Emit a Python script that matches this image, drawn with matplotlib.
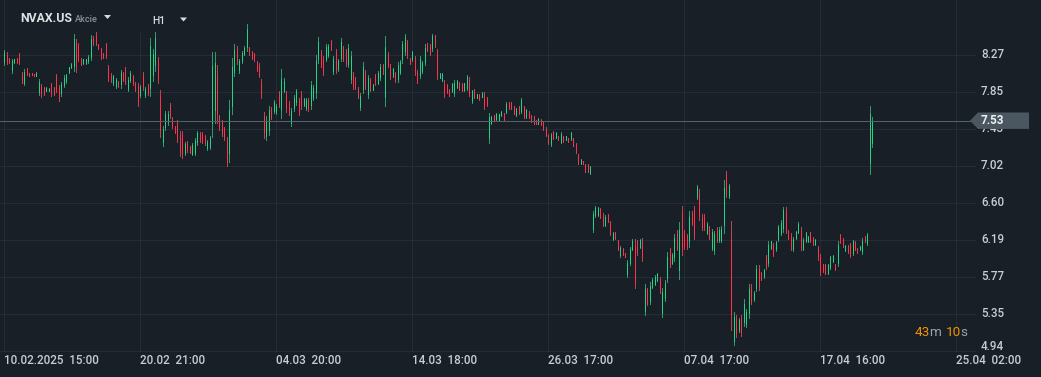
import numpy as np
import matplotlib
matplotlib.use("Agg")
import matplotlib.pyplot as plt
from matplotlib.collections import LineCollection
from matplotlib.patches import Polygon, Rectangle
from matplotlib.transforms import blended_transform_factory

# ---------------- data (H1 candles, NVAX.US) ----------------
opens = [
    8.19, 8.27, 8.23, 8.10, 8.19, 8.23, 8.27, 8.06, 7.96, 8.11,
    8.07, 8.07, 8.06, 8.03, 7.85, 7.92, 7.90, 7.86, 7.86, 7.93,
    7.90, 8.02, 7.90, 7.84, 7.93, 7.98, 8.08, 8.13, 8.15, 8.40,
    8.38, 8.23, 8.18, 8.18, 8.20, 8.25, 8.46, 8.50, 8.39, 8.33,
    8.28, 8.38, 8.13, 8.05, 7.95, 7.92, 7.97, 7.94, 8.06, 8.10,
    7.89, 7.99, 8.03, 7.95, 7.92, 7.82, 8.05, 7.82, 7.92, 7.90,
    8.04, 8.16, 8.20, 7.80, 7.29, 7.46, 7.51, 7.70, 7.55, 7.46,
    7.50, 7.37, 7.37, 7.17, 7.28, 7.23, 7.16, 7.17, 7.29, 7.38,
    7.38, 7.35, 7.22, 7.23, 7.50, 7.65, 8.05, 7.57, 7.51, 7.44,
    7.30, 7.17, 7.70, 8.08, 8.34, 8.10, 8.20, 8.28, 8.36, 8.35,
    8.30, 8.28, 8.18, 8.15, 7.96, 7.58, 7.36, 7.42, 7.66, 7.64,
    7.63, 7.84, 7.66, 7.87, 7.83, 7.72, 7.50, 7.67, 7.74, 7.75,
    7.83, 7.71, 7.67, 7.76, 7.71, 7.79, 7.85, 8.22, 8.30, 8.23,
    8.23, 8.27, 8.42, 8.09, 8.30, 8.11, 8.24, 8.34, 8.31, 8.17,
    8.00, 8.05, 8.00, 7.89, 7.68, 7.89, 8.07, 7.83, 7.99, 7.88,
    8.04, 7.96, 8.02, 8.15, 7.80, 8.27, 8.14, 8.03, 8.06, 8.00,
    8.08, 8.22, 8.31, 8.41, 8.23, 8.22, 8.23, 8.08, 8.05, 8.09,
    8.19, 8.40, 8.37, 8.35, 8.48, 8.29, 8.01, 7.99, 7.96, 7.93,
    7.88, 7.86, 7.84, 7.91, 7.96, 7.94, 7.88, 7.90, 7.99, 7.75,
    7.88, 7.79, 7.82, 7.80, 7.82, 7.79, 7.33, 7.50, 7.59, 7.55,
    7.54, 7.59, 7.61, 7.63, 7.73, 7.73, 7.68, 7.59, 7.68, 7.64,
    7.68, 7.57, 7.63, 7.58, 7.57, 7.53, 7.49, 7.54, 7.51, 7.44,
    7.36, 7.27, 7.40, 7.34, 7.36, 7.29, 7.35, 7.31, 7.34, 7.32,
    7.33, 7.26, 7.14, 7.05, 7.08, 7.03, 7.03, 6.94, 6.31, 6.47,
    6.47, 6.54, 6.47, 6.36, 6.47, 6.38, 6.20, 6.27, 6.18, 6.02,
    6.09, 6.04, 5.80, 5.93, 6.09, 6.12, 6.16, 6.11, 6.17, 5.39,
    5.62, 5.50, 5.66, 5.69, 5.74, 5.74, 5.37, 5.53, 5.76, 6.07,
    5.93, 5.99, 6.26, 5.85, 6.49, 6.27, 6.23, 6.17, 6.49, 6.52,
    6.67, 6.71, 6.45, 6.45, 6.27, 6.33, 6.10, 6.07, 6.30, 6.19,
    6.19, 6.36, 6.92, 6.68, 6.20, 5.05, 5.30, 5.17, 5.30, 5.26,
    5.24, 5.37, 5.66, 5.52, 5.65, 5.86, 5.82, 5.78, 5.99, 5.93,
    6.10, 6.13, 6.08, 6.20, 6.27, 6.32, 6.51, 6.29, 6.23, 6.08,
    6.21, 6.28, 6.29, 6.09, 6.18, 6.17, 6.26, 6.21, 6.14, 6.10,
    5.99, 5.91, 5.90, 5.82, 5.88, 5.95, 5.91, 5.93, 6.24, 6.19,
    6.07, 6.12, 6.13, 6.04, 6.15, 6.09, 6.08, 6.06, 6.22, 6.15, 7.05, 7.28,
]
highs = [
    8.33, 8.30, 8.24, 8.23, 8.23, 8.24, 8.29, 8.08, 8.11, 8.12,
    8.07, 8.07, 8.06, 8.08, 8.00, 7.94, 7.91, 7.91, 7.90, 7.96,
    7.91, 8.06, 7.93, 7.97, 8.04, 8.06, 8.14, 8.18, 8.51, 8.45,
    8.41, 8.24, 8.23, 8.23, 8.27, 8.49, 8.48, 8.53, 8.39, 8.35,
    8.29, 8.41, 8.16, 8.07, 8.05, 8.01, 7.98, 8.10, 8.08, 8.13,
    8.02, 8.09, 8.05, 7.97, 7.96, 7.93, 8.08, 7.91, 7.94, 8.46,
    8.34, 8.53, 8.25, 7.88, 7.47, 7.64, 7.64, 7.73, 7.57, 7.47,
    7.54, 7.41, 7.41, 7.29, 7.30, 7.24, 7.28, 7.33, 7.41, 7.40,
    7.40, 7.37, 7.31, 7.36, 8.30, 8.30, 8.16, 7.59, 7.54, 7.46,
    7.35, 7.76, 8.24, 8.39, 8.37, 8.23, 8.31, 8.37, 8.62, 8.36,
    8.32, 8.29, 8.20, 8.18, 8.00, 7.63, 7.58, 7.70, 7.68, 7.76,
    7.72, 7.87, 8.11, 8.01, 7.87, 7.75, 7.67, 7.82, 7.89, 7.78,
    7.87, 7.78, 7.78, 7.78, 7.98, 7.93, 8.27, 8.47, 8.33, 8.26,
    8.39, 8.39, 8.44, 8.26, 8.34, 8.22, 8.46, 8.37, 8.34, 8.39,
    8.32, 8.08, 8.02, 7.91, 7.84, 8.19, 8.10, 8.05, 8.01, 7.94,
    8.06, 8.09, 8.17, 8.17, 8.48, 8.30, 8.17, 8.12, 8.08, 8.19,
    8.21, 8.43, 8.51, 8.44, 8.24, 8.32, 8.26, 8.10, 8.26, 8.20,
    8.39, 8.41, 8.39, 8.51, 8.50, 8.34, 8.07, 8.07, 7.99, 7.94,
    7.89, 7.95, 7.99, 7.99, 7.97, 7.95, 7.96, 8.05, 8.02, 7.88,
    7.89, 7.83, 7.83, 7.85, 7.85, 7.80, 7.62, 7.58, 7.59, 7.62,
    7.61, 7.64, 7.62, 7.74, 7.74, 7.74, 7.70, 7.67, 7.70, 7.79,
    7.70, 7.66, 7.64, 7.59, 7.58, 7.54, 7.56, 7.55, 7.52, 7.46,
    7.38, 7.39, 7.41, 7.40, 7.36, 7.40, 7.36, 7.36, 7.34, 7.40,
    7.34, 7.28, 7.16, 7.10, 7.08, 7.04, 7.04, 7.02, 6.51, 6.57,
    6.56, 6.55, 6.49, 6.47, 6.48, 6.40, 6.28, 6.28, 6.19, 6.12,
    6.10, 6.04, 5.96, 6.11, 6.20, 6.20, 6.19, 6.20, 6.21, 5.69,
    5.65, 5.71, 5.76, 5.79, 5.81, 5.77, 5.65, 5.74, 6.05, 6.10,
    6.04, 6.25, 6.30, 6.39, 6.57, 6.30, 6.25, 6.51, 6.51, 6.57,
    6.81, 6.76, 6.48, 6.48, 6.39, 6.35, 6.31, 6.29, 6.33, 6.33,
    6.34, 6.86, 6.96, 6.82, 6.40, 5.38, 5.34, 5.31, 5.34, 5.52,
    5.41, 5.69, 5.69, 5.61, 5.91, 5.91, 5.83, 5.86, 6.02, 6.17,
    6.18, 6.15, 6.18, 6.36, 6.41, 6.56, 6.56, 6.30, 6.26, 6.22,
    6.29, 6.39, 6.33, 6.21, 6.28, 6.23, 6.28, 6.22, 6.20, 6.12,
    6.03, 5.92, 5.92, 5.92, 6.01, 6.02, 5.92, 6.18, 6.25, 6.21,
    6.13, 6.13, 6.15, 6.19, 6.17, 6.10, 6.12, 6.21, 6.23, 6.26, 7.70, 7.57,
]
lows = [
    8.16, 8.17, 8.18, 8.07, 8.18, 8.18, 8.17, 7.95, 7.93, 8.05,
    8.03, 8.04, 8.03, 8.03, 7.82, 7.80, 7.82, 7.86, 7.86, 7.81,
    7.82, 7.85, 7.75, 7.81, 7.91, 7.96, 8.07, 8.12, 8.09, 8.08,
    8.20, 8.16, 8.17, 8.17, 8.18, 8.21, 8.38, 8.38, 8.34, 8.23,
    8.24, 8.24, 7.98, 7.97, 7.93, 7.90, 7.91, 7.90, 7.98, 7.94,
    7.86, 7.97, 7.93, 7.86, 7.70, 7.80, 7.88, 7.80, 7.82, 7.81,
    7.98, 8.09, 7.96, 7.35, 7.25, 7.42, 7.48, 7.56, 7.45, 7.39,
    7.29, 7.13, 7.11, 7.14, 7.18, 7.17, 7.14, 7.14, 7.26, 7.29,
    7.28, 7.26, 7.20, 7.21, 7.35, 7.50, 7.50, 7.43, 7.36, 7.31,
    7.02, 7.06, 7.60, 8.03, 8.17, 8.07, 8.18, 8.27, 8.32, 8.27,
    8.22, 8.20, 8.09, 8.02, 7.79, 7.34, 7.31, 7.37, 7.55, 7.62,
    7.61, 7.68, 7.56, 7.85, 7.63, 7.59, 7.47, 7.64, 7.71, 7.59,
    7.66, 7.70, 7.65, 7.64, 7.66, 7.76, 7.78, 8.18, 8.13, 8.05,
    8.20, 8.25, 8.33, 8.06, 8.07, 8.09, 8.20, 8.20, 8.15, 8.13,
    7.95, 7.89, 7.89, 7.78, 7.65, 7.84, 7.89, 7.79, 7.86, 7.88,
    7.93, 7.94, 7.99, 8.06, 7.69, 8.13, 8.00, 8.02, 7.97, 7.97,
    8.06, 8.18, 8.27, 8.24, 8.17, 8.20, 8.05, 7.96, 8.01, 8.07,
    8.16, 8.32, 8.27, 8.32, 8.36, 8.00, 8.01, 7.98, 7.80, 7.84,
    7.81, 7.85, 7.81, 7.90, 7.88, 7.87, 7.87, 7.88, 7.81, 7.73,
    7.79, 7.79, 7.76, 7.80, 7.66, 7.70, 7.28, 7.49, 7.54, 7.54,
    7.53, 7.58, 7.54, 7.62, 7.66, 7.66, 7.60, 7.58, 7.61, 7.62,
    7.56, 7.56, 7.56, 7.51, 7.49, 7.49, 7.49, 7.48, 7.43, 7.36,
    7.27, 7.25, 7.32, 7.34, 7.31, 7.28, 7.29, 7.31, 7.29, 7.31,
    7.24, 7.17, 7.04, 7.04, 7.04, 6.95, 6.95, 6.93, 6.28, 6.45,
    6.46, 6.44, 6.34, 6.34, 6.39, 6.24, 6.19, 6.20, 6.07, 6.00,
    6.02, 6.00, 5.77, 5.90, 6.07, 5.65, 6.02, 6.10, 5.95, 5.34,
    5.45, 5.47, 5.65, 5.68, 5.73, 5.59, 5.32, 5.50, 5.71, 5.88,
    5.92, 5.95, 6.07, 5.75, 6.02, 6.09, 6.09, 6.11, 6.36, 6.20,
    6.65, 6.41, 6.30, 6.30, 6.25, 6.20, 6.07, 6.03, 6.16, 6.16,
    6.16, 6.27, 6.67, 6.66, 5.17, 5.00, 5.10, 5.15, 5.11, 5.22,
    5.21, 5.31, 5.47, 5.50, 5.61, 5.62, 5.74, 5.76, 5.86, 5.89,
    6.09, 6.01, 6.06, 6.17, 6.24, 6.28, 6.26, 6.20, 6.07, 6.06,
    6.20, 6.26, 6.07, 6.07, 6.16, 6.16, 6.16, 6.13, 6.13, 5.96,
    5.79, 5.83, 5.80, 5.80, 5.86, 5.94, 5.85, 5.89, 6.15, 6.11,
    6.06, 6.04, 6.00, 6.02, 6.07, 6.04, 6.07, 6.03, 6.16, 6.13, 6.93, 7.23,
]
closes = [
    8.30, 8.20, 8.19, 8.20, 8.22, 8.19, 8.19, 7.97, 8.08, 8.06,
    8.03, 8.04, 8.03, 8.07, 7.97, 7.83, 7.83, 7.90, 7.89, 7.84,
    7.83, 7.88, 7.78, 7.94, 8.01, 8.04, 8.13, 8.17, 8.45, 8.15,
    8.23, 8.17, 8.22, 8.22, 8.25, 8.45, 8.40, 8.41, 8.35, 8.25,
    8.25, 8.27, 8.01, 7.99, 8.03, 7.99, 7.92, 8.07, 8.00, 7.98,
    7.99, 8.07, 7.95, 7.88, 7.75, 7.91, 7.91, 7.89, 7.84, 8.37,
    8.28, 8.46, 8.01, 7.43, 7.44, 7.61, 7.61, 7.59, 7.47, 7.40,
    7.34, 7.18, 7.17, 7.27, 7.20, 7.18, 7.26, 7.30, 7.39, 7.31,
    7.30, 7.28, 7.29, 7.34, 8.15, 8.18, 7.60, 7.46, 7.39, 7.34,
    7.08, 7.65, 8.14, 8.33, 8.20, 8.20, 8.29, 8.35, 8.56, 8.29,
    8.24, 8.22, 8.11, 8.05, 7.83, 7.40, 7.53, 7.65, 7.57, 7.74,
    7.70, 7.71, 8.00, 7.98, 7.67, 7.62, 7.64, 7.79, 7.86, 7.62,
    7.69, 7.77, 7.76, 7.66, 7.93, 7.90, 8.20, 8.42, 8.16, 8.08,
    8.36, 8.37, 8.34, 8.23, 8.11, 8.20, 8.42, 8.23, 8.18, 8.35,
    8.26, 7.92, 7.91, 7.80, 7.81, 8.14, 7.92, 8.01, 7.88, 7.93,
    7.95, 8.07, 8.14, 8.07, 8.36, 8.16, 8.03, 8.11, 7.99, 8.16,
    8.19, 8.39, 8.47, 8.27, 8.18, 8.30, 8.08, 7.98, 8.22, 8.18,
    8.35, 8.33, 8.29, 8.48, 8.38, 8.05, 8.06, 8.06, 7.83, 7.85,
    7.82, 7.94, 7.96, 7.98, 7.89, 7.88, 7.95, 8.02, 7.84, 7.86,
    7.80, 7.83, 7.77, 7.84, 7.69, 7.71, 7.57, 7.57, 7.54, 7.61,
    7.60, 7.63, 7.55, 7.72, 7.67, 7.67, 7.61, 7.66, 7.62, 7.76,
    7.58, 7.65, 7.57, 7.52, 7.50, 7.49, 7.55, 7.49, 7.44, 7.37,
    7.28, 7.37, 7.33, 7.39, 7.31, 7.38, 7.30, 7.36, 7.29, 7.39,
    7.25, 7.18, 7.05, 7.09, 7.04, 6.96, 6.96, 7.01, 6.48, 6.55,
    6.55, 6.45, 6.36, 6.45, 6.40, 6.26, 6.27, 6.21, 6.08, 6.10,
    6.03, 6.00, 5.93, 6.08, 6.18, 5.72, 6.05, 6.19, 5.99, 5.64,
    5.48, 5.67, 5.74, 5.77, 5.80, 5.62, 5.60, 5.70, 6.00, 5.91,
    6.02, 6.21, 6.10, 6.30, 6.10, 6.12, 6.11, 6.45, 6.38, 6.25,
    6.78, 6.46, 6.33, 6.33, 6.37, 6.22, 6.28, 6.25, 6.19, 6.30,
    6.31, 6.77, 6.71, 6.79, 5.35, 5.32, 5.14, 5.29, 5.15, 5.47,
    5.38, 5.63, 5.50, 5.59, 5.86, 5.67, 5.75, 5.85, 5.89, 6.13,
    6.17, 6.03, 6.16, 6.33, 6.38, 6.52, 6.30, 6.21, 6.10, 6.20,
    6.28, 6.37, 6.11, 6.19, 6.26, 6.22, 6.18, 6.14, 6.19, 5.99,
    5.83, 5.84, 5.82, 5.90, 5.99, 6.01, 5.86, 6.13, 6.16, 6.12,
    6.12, 6.05, 6.02, 6.17, 6.08, 6.05, 6.11, 6.18, 6.17, 6.24, 7.60, 7.53,
]

x_tick_bars = [0, 55, 110, 165, 220, 275, 330, 385]
x_tick_labels = ["10.02.2025  15:00", "20.02  21:00", "04.03  20:00", "14.03  18:00",
                 "26.03  17:00", "07.04  17:00", "17.04  16:00", "25.04  02:00"]
y_tick_labels = ["4.94", "5.35", "5.77", "6.19", "6.60", "7.02", "7.43", "7.85", "8.27"]
y_tick_low, y_tick_high = 4.94, 8.27
last_price = 7.53
symbol = "NVAX.US"
asset_type = "Akcie"
timeframe = "H1"
countdown_parts = [("43", "orange"), ("m", "gray"), ("10", "orange"), ("s", "gray")]

assert len(opens) == len(highs) == len(lows) == len(closes), (len(opens), len(highs), len(lows), len(closes))

# ---------------- style ----------------
W, H = 1041, 377
BG = "#181f26"
GRID = "#242d36"
TXT = "#c9cdd2"
GREEN = "#22d486"
GREEN_W = "#2f9b6c"
RED = "#ff3349"
RED_W = "#c3404e"
PLINE = "#56616b"
TAG = "#4a5761"
ORANGE = "#f39200"
GRAY = "#9aa2aa"
FONT = "Roboto"

fig = plt.figure(figsize=(W / 100, H / 100), dpi=100, facecolor=BG)
plot_w, plot_h = 975, 351
ax = fig.add_axes([0, (H - plot_h) / H, plot_w / W, plot_h / H])
ax.set_facecolor(BG)
for s in ax.spines.values():
    s.set_visible(False)
ax.set_xticks([])
ax.set_yticks([])

px_per_bar = 2.473
x0 = -4.3 / px_per_bar
ax.set_xlim(x0, x0 + plot_w / px_per_bar)
ax.set_ylim(4.937, 8.889)

lw = 72 / 100  # 1 px

# grid
ytick_pos = np.linspace(y_tick_low, y_tick_high, len(y_tick_labels))
for p in ytick_pos:
    ax.axhline(p, color=GRID, lw=lw, zorder=0, clip_on=False, antialiased=False)
for b in x_tick_bars:
    ax.axvline(b, color=GRID, lw=lw, zorder=0, antialiased=False)

# candles
n = len(opens)
idx = np.arange(n)
wick_segs, wick_cols, body_segs, body_cols = [], [], [], []
for i in range(n):
    up = closes[i] >= opens[i]
    wick_segs.append([(idx[i], lows[i]), (idx[i], highs[i])])
    wick_cols.append(GREEN_W if up else RED_W)
    lo, hi = min(opens[i], closes[i]), max(opens[i], closes[i])
    body_segs.append([(idx[i], lo), (idx[i], hi)])
    body_cols.append(GREEN if up else RED)
ax.add_collection(LineCollection(wick_segs, colors=wick_cols, linewidths=lw, antialiaseds=False, zorder=2))
ax.add_collection(LineCollection(body_segs, colors=body_cols, linewidths=lw, antialiaseds=False, zorder=3))

# last price line
ax.axhline(last_price, color=PLINE, lw=lw, zorder=4, antialiased=False)

# y labels
tr = blended_transform_factory(ax.transAxes, ax.transData)
for p, lab in zip(ytick_pos, y_tick_labels):
    dy = 0.045 if lab == y_tick_labels[0] else 0
    ax.text(1 + 6 / plot_w, p + dy, lab, transform=tr, ha="left", va="center",
            color=TXT, fontsize=8.4, fontfamily=FONT, fontweight="medium", clip_on=False, zorder=5)

# x labels
trx = blended_transform_factory(ax.transData, fig.transFigure)
for b, lab in zip(x_tick_bars, x_tick_labels):
    ax.text(b, 1 - 360 / H, lab, transform=trx, ha="left", va="center",
            color=TXT, fontsize=8.4, fontfamily=FONT, fontweight="medium", clip_on=False)

fig.canvas.draw()
r = fig.canvas.get_renderer()

# price tag (covers the 7.43 label, as in the reference)
ypix = ax.transData.transform((0, last_price))[1]
tag = Polygon([(970, ypix), (978, ypix + 8.2), (1029, ypix + 8.2), (1029, ypix - 8.2), (978, ypix - 8.2)],
              closed=True, transform=None, facecolor=TAG, edgecolor="none", zorder=6)
fig.patches.append(tag)
fig.text(981 / W, ypix / H, f"{last_price:.2f}", ha="left", va="center", color="#eef0f2",
         fontsize=8.4, fontfamily=FONT, fontweight="bold", zorder=7)

# header (covering box + texts)
fig.patches.append(Rectangle((10 / W, 1 - 31 / H), 190 / W, 31 / H, transform=fig.transFigure,
                             facecolor=BG, edgecolor="none", zorder=1))
t1 = fig.text(20 / W, 1 - 19 / H, symbol, ha="left", va="center", color="#dfe2e5",
              fontsize=8.8, fontfamily=FONT, fontweight="bold", zorder=3)
bb = t1.get_window_extent(renderer=r)
fig.text((bb.x1 + 3) / W, 1 - 19.5 / H, asset_type, ha="left", va="center", color="#8b949c",
         fontsize=6.6, fontfamily=FONT, fontweight="medium", zorder=3)
for (xl, xr, yt, yb) in [(104, 111, 15, 19), (180, 187, 17.5, 21.5)]:
    fig.patches.append(Polygon([(xl / W, 1 - yt / H), (xr / W, 1 - yt / H), ((xl + xr) / 2 / W, 1 - yb / H)],
                               closed=True, transform=fig.transFigure, facecolor="#d9dcdf",
                               edgecolor="none", zorder=3))
fig.text(152 / W, 1 - 20.5 / H, timeframe, ha="left", va="center", color="#d9dcdf",
         fontsize=7.4, fontfamily=FONT, fontweight="medium", zorder=3)

# countdown "43m 10s"
cx = 915
cmap = {"orange": ORANGE, "gray": GRAY}
gaps = {"43": -0.8, "m": 4.5, "10": -0.8, "s": 0}
for txt, c in countdown_parts:
    t = fig.text(cx / W, 1 - 332 / H, txt, ha="left", va="center", color=cmap[c],
                 fontsize=9.7, fontfamily=FONT, zorder=3)
    e = t.get_window_extent(renderer=r)
    cx = e.x1 + gaps[txt]

fig.savefig("out.png", dpi=100, facecolor=BG)
